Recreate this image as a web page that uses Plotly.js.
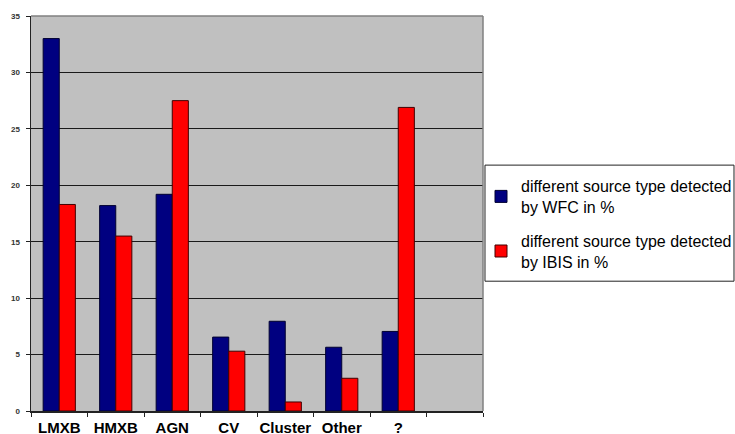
<!DOCTYPE html>
<html>
<head>
<meta charset="utf-8">
<script src="https://cdn.plot.ly/plotly-3.0.1.min.js"></script>
<style>html,body{margin:0;padding:0;background:#fff;}#chart{width:735px;height:434px;}</style>
</head>
<body>
<div id="chart"></div>
<script>
const categories = ['LMXB', 'HMXB', 'AGN', 'CV', 'Cluster', 'Other', '?', ' '];
const wfcValues  = [33.0, 18.2, 19.2, 6.55, 7.95, 5.65, 7.05, null];
const ibisValues = [18.3, 15.5, 27.5, 5.3, 0.8, 2.9, 26.9, null];
const seriesNames = [
  'different source type detected<br>by WFC in %',
  'different source type detected<br>by IBIS in %'
];
const yTicks = [0, 5, 10, 15, 20, 25, 30, 35];

const traces = [
  {
    type: 'bar', x: categories, y: wfcValues, name: seriesNames[0],
    legendgroup: 'a',
    marker: {color: '#000080', line: {color: '#000030', width: 1}},
    hoverinfo: 'x+y'
  },
  {
    type: 'bar', x: categories, y: ibisValues, name: seriesNames[1],
    legendgroup: 'b',
    marker: {color: '#ff0000', line: {color: '#400000', width: 1}},
    hoverinfo: 'x+y'
  }
];

const layout = {
  width: 735, height: 434,
  margin: {l: 31, r: 252, t: 16, b: 23, pad: 0, autoexpand: false},
  paper_bgcolor: '#ffffff',
  plot_bgcolor: '#c0c0c0',
  barmode: 'group',
  bargap: 0.43,
  bargroupgap: 0,
  showlegend: true,
  font: {family: 'Liberation Sans, Arial, sans-serif', color: '#000'},
  xaxis: {
    type: 'category',
    tickson: 'boundaries',
    tickangle: 0,
    ticks: 'outside', ticklen: 4, tickcolor: '#222', tickwidth: 1,
    showline: true, linecolor: '#222', linewidth: 1.5,
    showgrid: false,
    ticklabelstandoff: 2,
    tickfont: {size: 15, color: '#000', family: 'Liberation Sans, Arial, sans-serif', weight: 'bold'},
    fixedrange: true
  },
  yaxis: {
    range: [0, 35],
    tickvals: yTicks,
    ticktext: yTicks.map(String),
    ticks: 'outside', ticklen: 4, tickcolor: '#222', tickwidth: 1,
    showline: true, linecolor: '#222', linewidth: 1.5,
    showgrid: true, gridcolor: '#1a1a1a', gridwidth: 1,
    zeroline: false,
    ticklabelstandoff: 4,
    tickfont: {size: 8, color: '#333', family: 'Liberation Sans, Arial, sans-serif', weight: 'bold'},
    fixedrange: true
  },
  legend: {
    x: 0.9956, xanchor: 'left',
    y: 0.6124, yanchor: 'top',
    bgcolor: 'rgba(0,0,0,0)',
    borderwidth: 0,
    font: {size: 16, color: '#000', family: 'Liberation Sans, Arial, sans-serif'},
    traceorder: 'grouped',
    tracegroupgap: 10,
    itemwidth: 30
  },
  shapes: [
    {type: 'rect', xref: 'paper', yref: 'paper', x0: 1.0044, x1: 1.5553, y0: 0.3286, y1: 0.6225,
     fillcolor: '#ffffff', line: {color: '#222', width: 1}, layer: 'below'},
    {type: 'line', xref: 'paper', yref: 'paper', x0: 0, x1: 1, y0: 1, y1: 1,
     line: {color: '#808080', width: 1.5}, layer: 'above'},
    {type: 'line', xref: 'paper', yref: 'paper', x0: 1, x1: 1, y0: 0, y1: 1,
     line: {color: '#808080', width: 1.5}, layer: 'above'}
  ]
};

Plotly.newPlot('chart', traces, layout, {displayModeBar: false, staticPlot: true});
</script>
</body>
</html>
